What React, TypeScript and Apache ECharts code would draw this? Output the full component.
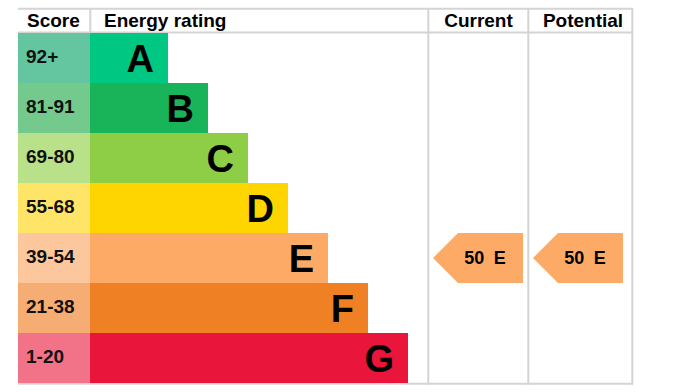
import React, { useEffect, useRef } from "react";
import * as echarts from "echarts";

// ---- data ----
const bands = ["A", "B", "C", "D", "E", "F", "G"];
const scoreRanges = ["92+", "81-91", "69-80", "55-68", "39-54", "21-38", "1-20"];
const barLengths = [78, 118, 158, 198, 238, 278, 318];
const bandColors = ["#00c781", "#19b459", "#8dce46", "#ffd500", "#fcaa65", "#ef8023", "#e9153b"];
const scoreColors = ["#63c6a0", "#74ca8c", "#b9e18a", "#ffe567", "#fdc79d", "#f5ad74", "#f27288"];
const currentScore = 50;
const currentBand = "E";
const potentialScore = 50;
const potentialBand = "E";
const headers = ["Score", "Energy rating", "Current", "Potential"];

// layout constants (pixel-based axis units)
const SCORE_COL = 72;
const CURRENT_COL_START = 410;
const POTENTIAL_COL_START = 510;
const FONT = "'Liberation Sans', Arial, Helvetica, sans-serif";
const LINE = "#d4d4d4";

export default function App() {
  const ref = useRef<HTMLDivElement>(null);
  useEffect(() => {
    document.body.style.margin = "0";
    const chart = echarts.init(ref.current!, null, { renderer: "svg" });
    const lineStyle = { stroke: LINE, lineWidth: 2 };
    const hLine = (y: number) => ({ type: "line", shape: { x1: 18, y1: y, x2: 633, y2: y }, style: lineStyle, silent: true });
    const vLine = (x: number, y1: number, y2: number) => ({ type: "line", shape: { x1: x, y1, x2: x, y2 }, style: lineStyle, silent: true });
    const headerText = (text: string, x: number, align: string) => ({
      type: "text",
      x,
      y: 20.5,
      style: { text, fill: "#000", font: `bold 19px ${FONT}`, textAlign: align, textVerticalAlign: "middle" },
      silent: true,
    });

    const arrowData = [
      [CURRENT_COL_START, bands.indexOf(currentBand), currentScore, currentBand],
      [POTENTIAL_COL_START, bands.indexOf(potentialBand), potentialScore, potentialBand],
    ];

    chart.setOption({
      animation: false,
      grid: { left: 18, top: 33, width: 614, height: 350, containLabel: false },
      xAxis: { type: "value", min: 0, max: 614, show: false },
      yAxis: { type: "category", data: bands, inverse: true, show: false },
      series: [
        {
          type: "bar",
          stack: "row",
          barCategoryGap: "0%",
          barWidth: "100%",
          data: scoreRanges.map((s, i) => ({ value: SCORE_COL, itemStyle: { color: scoreColors[i] } })),
          label: {
            show: true,
            position: "insideLeft",
            distance: 8,
            offset: [0, -2],
            formatter: (p: any) => scoreRanges[p.dataIndex],
            color: "#111",
            fontSize: 19,
            fontWeight: "bold",
            fontFamily: FONT,
          },
        },
        {
          type: "bar",
          stack: "row",
          barCategoryGap: "0%",
          barWidth: "100%",
          data: barLengths.map((v, i) => ({ value: v, itemStyle: { color: bandColors[i] } })),
          label: {
            show: true,
            position: "insideRight",
            distance: 14,
            offset: [0, 1],
            formatter: (p: any) => bands[p.dataIndex],
            color: "#000",
            fontSize: 38,
            fontWeight: "bold",
            fontFamily: FONT,
          },
        },
        {
          type: "custom",
          data: arrowData,
          renderItem: (params: any, api: any) => {
            const x0 = api.value(0);
            const row = api.value(1);
            const score = arrowData[params.dataIndex][2];
            const band = arrowData[params.dataIndex][3] as string;
            const [px, py] = api.coord([x0, row]);
            const h = api.size([0, 1])[1];
            const tip = px + 5;
            const notch = tip + 25;
            const right = tip + 90;
            const color = bandColors[bands.indexOf(band)];
            return {
              type: "group",
              children: [
                {
                  type: "polygon",
                  shape: {
                    points: [
                      [tip, py],
                      [notch, py - h / 2],
                      [right, py - h / 2],
                      [right, py + h / 2],
                      [notch, py + h / 2],
                    ],
                  },
                  style: { fill: color },
                },
                {
                  type: "text",
                  x: tip + 52,
                  y: py,
                  style: {
                    text: `{v|${score}} {b|${band}}`,
                    rich: {
                      v: { fontSize: 18, fontWeight: "bold", fontFamily: FONT, fill: "#000", color: "#000" },
                      b: { fontSize: 18, fontWeight: "bold", fontFamily: FONT, fill: "#000", color: "#000", padding: [0, 0, 0, 6] },
                    },
                    align: "center",
                    verticalAlign: "middle",
                    textAlign: "center",
                    textVerticalAlign: "middle",
                  },
                },
              ],
            };
          },
        },
      ],
      graphic: [
        hLine(8.7),
        hLine(32.5),
        hLine(383.7),
        vLine(90.3, 8, 33),
        vLine(428.3, 8, 384.7),
        vLine(528.3, 8, 384.7),
        vLine(632.3, 8, 384.7),
        headerText(headers[0], 27, "left"),
        headerText(headers[1], 104, "left"),
        headerText(headers[2], 478.5, "center"),
        headerText(headers[3], 583, "center"),
      ],
    });
    return () => chart.dispose();
  }, []);
  return <div ref={ref} style={{ width: 680, height: 392 }} />;
}
